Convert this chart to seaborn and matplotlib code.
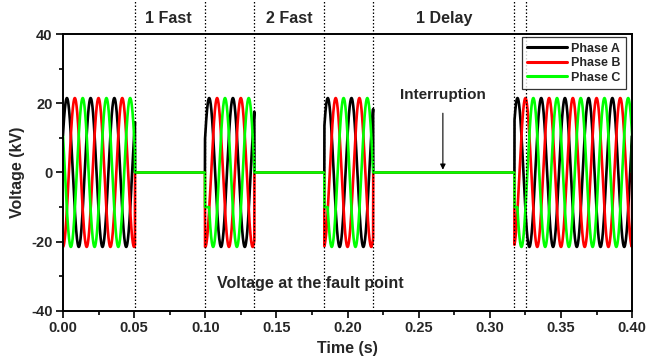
import numpy as np
import pandas as pd
import matplotlib
matplotlib.use('Agg')
import matplotlib.pyplot as plt
import seaborn as sns

# --- values ---
phases = ['Phase A', 'Phase B', 'Phase C']
phase_colors = ['#000000', '#ff0000', '#00ff00']
phase_angles_deg = [30, -90, 150]      # sin(wt + angle)
peak_kv = 21.5
freq_hz = 60

close_times = [0.0, 0.0998, 0.1837, 0.3173]   # breaker closes
open_times = [0.0506, 0.1345, 0.2180, 0.40]   # breaker opens
phase_c_hold_kv = -10.0                       # phase C sits here right after reclose
phase_c_hold_s = 0.004

marker_lines = [0.0506, 0.0998, 0.1345, 0.1837, 0.2180, 0.3173, 0.3255]
stage_labels = ['1 Fast', '2 Fast', '1 Delay']
stage_x = [0.074, 0.159, 0.268]

x_ticks = [0.00, 0.05, 0.10, 0.15, 0.20, 0.25, 0.30, 0.35, 0.40]
y_ticks = [-40, -20, 0, 20, 40]

# --- build the waveforms ---
t = np.round(np.arange(0, 0.40 + 1e-6, 2e-5), 6)
w = 2 * np.pi * freq_hz
on = np.zeros_like(t, dtype=bool)
for c, o in zip(close_times, open_times):
    on |= (t >= c) & (t < o)

rows = []
for name, ang in zip(phases, phase_angles_deg):
    v = peak_kv * np.sin(w * t + np.deg2rad(ang))
    if name == 'Phase C':
        for c in close_times[1:]:
            m = (t >= c) & (t < c + phase_c_hold_s)
            v[m] = np.minimum(v[m], phase_c_hold_kv)
    v = np.where(on, v, 0.0)
    rows.append(pd.DataFrame({'time': t, 'voltage': v, 'phase': name}))
df = pd.concat(rows, ignore_index=True)

# --- plot ---
sns.set_style('ticks')
plt.rcParams['font.family'] = ['Liberation Sans', 'DejaVu Sans']
plt.rcParams['font.weight'] = 'bold'

fig, ax = plt.subplots(figsize=(6.49, 3.62), dpi=100)
fig.subplots_adjust(left=0.097, right=0.974, top=0.906, bottom=0.141)

sns.lineplot(data=df, x='time', y='voltage', hue='phase', hue_order=phases,
             palette=phase_colors, estimator=None, sort=False, lw=1.9, ax=ax)

ax.vlines(marker_lines, -40, 50, colors='black', linestyles=(0, (1.2, 1.6)),
          lw=0.9, clip_on=False, zorder=3)

ax.set_xlim(0, 0.40)
ax.set_ylim(-40, 40)
ax.set_xticks(x_ticks)
ax.set_yticks(y_ticks)
ax.set_xticks(np.arange(0.025, 0.40, 0.05), minor=True)
ax.set_yticks([-30, -10, 10, 30], minor=True)
ax.set_xticklabels([f'{v:.2f}' for v in x_ticks], fontsize=10.5, fontweight='bold')
ax.set_yticklabels([str(v) for v in y_ticks], fontsize=10.5, fontweight='bold')
ax.tick_params(which='major', length=5, width=1.2, color='black', direction='out',
               top=False, right=False, pad=2.5)
ax.tick_params(which='minor', length=3, width=1.2, color='black', direction='out',
               top=False, right=False)
for s in ax.spines.values():
    s.set_visible(True)
    s.set_color('black')
    s.set_linewidth(1.4)

ax.set_xlabel('Time (s)', fontsize=11.5, fontweight='bold', labelpad=4)
ax.set_ylabel('Voltage (kV)', fontsize=11.5, fontweight='bold', labelpad=4)

for lab, x in zip(stage_labels, stage_x):
    ax.text(x, 44.5, lab, ha='center', va='center', fontsize=11.5,
            fontweight='bold', clip_on=False)

ax.annotate('Interruption', xy=(0.267, 0.8), xytext=(0.267, 22.5),
            ha='center', va='center', fontsize=11, fontweight='bold',
            arrowprops=dict(arrowstyle='-|>', color='black', lw=0.8,
                            mutation_scale=8, shrinkA=6, shrinkB=0))
ax.text(0.174, -32, 'Voltage at the fault point', ha='center', va='center',
        fontsize=11.5, fontweight='bold')

leg = ax.legend(loc='upper right', frameon=True, fancybox=False, edgecolor='black',
                fontsize=9, handlelength=3.2, handletextpad=0.3,
                borderpad=0.45, labelspacing=0.2, borderaxespad=0.25,
                bbox_to_anchor=(0.995, 1.0))
leg.get_frame().set_linewidth(0.9)
for line in leg.get_lines():
    line.set_linewidth(2.2)

fig.savefig('out.png', dpi=100)
